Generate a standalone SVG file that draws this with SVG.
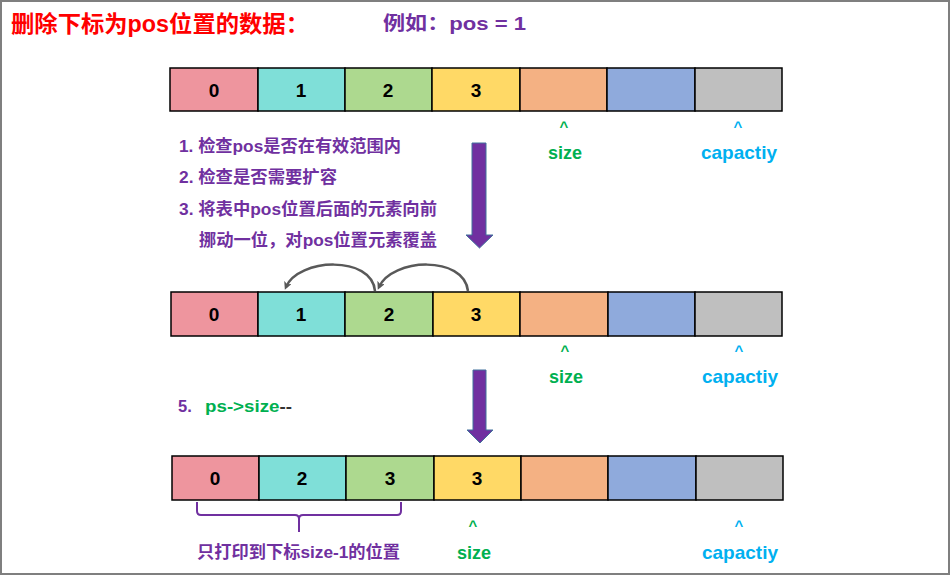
<svg xmlns="http://www.w3.org/2000/svg" width="952" height="576" viewBox="0 0 952 576">
<style>
.t{font-family:"Liberation Sans","Noto Sans CJK SC",sans-serif;font-weight:bold}
.num{font-family:"Liberation Sans",sans-serif;font-weight:bold;font-size:19px;fill:#000;text-anchor:middle}
.cell{stroke:#000;stroke-width:1.5}
.c0{fill:#EE959E}.c1{fill:#7FDFD8}.c2{fill:#ADD98F}.c3{fill:#FFD966}.c4{fill:#F4B183}.c5{fill:#8FAADC}.c6{fill:#BFBFBF}
.pur{fill:#7030A0}.grn{fill:#00B050}.cyn{fill:#00B0F0}
.blk{fill:#7030A0;stroke:#41719C;stroke-width:1}
.curve{fill:none;stroke:#595959;stroke-width:2.5}
</style>
<defs>
<marker id="ah" markerWidth="8" markerHeight="8" refX="5" refY="4" orient="auto" markerUnits="userSpaceOnUse" viewBox="0 0 8 8">
<path d="M0,0 L8,4 L0,8 L2,4 Z" fill="#595959"/>
</marker>
</defs>
<rect x="1" y="1" width="948" height="573" fill="#fff" stroke="#7f7f7f" stroke-width="2"/>
<g id="title">
<text class="t" x="11" y="32" font-size="23" fill="#FF0000" textLength="298" lengthAdjust="spacingAndGlyphs">删除下标为pos位置的数据：</text>
<text class="t pur" x="383" y="30" font-size="19" textLength="143" lengthAdjust="spacingAndGlyphs">例如：pos = 1</text>
</g>
<g id="array1">
<rect class="cell c0" x="170" y="68" width="88" height="43"/>
<rect class="cell c1" x="258" y="68" width="87" height="43"/>
<rect class="cell c2" x="345" y="68" width="87" height="43"/>
<rect class="cell c3" x="432" y="68" width="88" height="43"/>
<rect class="cell c4" x="520" y="68" width="87" height="43"/>
<rect class="cell c5" x="607" y="68" width="88" height="43"/>
<rect class="cell c6" x="695" y="68" width="87" height="43"/>
<text class="num" x="214" y="97">0</text>
<text class="num" x="301" y="97">1</text>
<text class="num" x="388" y="97">2</text>
<text class="num" x="476" y="97">3</text>
</g>
<g id="labels1">
<text class="t grn" x="564" y="132" font-size="15" text-anchor="middle">^</text>
<text class="t grn" x="565" y="159" font-size="18" text-anchor="middle">size</text>
<text class="t cyn" x="738" y="132" font-size="15" text-anchor="middle">^</text>
<text class="t cyn" x="739" y="159" font-size="19" text-anchor="middle">capactiy</text>
</g>
<g id="steps">
<text class="t pur" x="179" y="152" font-size="16.5" textLength="222" lengthAdjust="spacingAndGlyphs">1. 检查pos是否在有效范围内</text>
<text class="t pur" x="179" y="183" font-size="16.5" textLength="158" lengthAdjust="spacingAndGlyphs">2. 检查是否需要扩容</text>
<text class="t pur" x="179" y="215" font-size="16.5" textLength="258" lengthAdjust="spacingAndGlyphs">3. 将表中pos位置后面的元素向前</text>
<text class="t pur" x="199" y="246" font-size="16.5" textLength="238" lengthAdjust="spacingAndGlyphs">挪动一位，对pos位置元素覆盖</text>
</g>
<g id="arrow1">
<path class="blk" d="M472,143 L486,143 L486,235 L493,235 L479.5,248 L466,235 L472,235 Z"/>
</g>
<g id="array2">
<rect class="cell c0" x="171" y="292" width="87" height="44"/>
<rect class="cell c1" x="258" y="292" width="87" height="44"/>
<rect class="cell c2" x="345" y="292" width="88" height="44"/>
<rect class="cell c3" x="433" y="292" width="87" height="44"/>
<rect class="cell c4" x="520" y="292" width="88" height="44"/>
<rect class="cell c5" x="608" y="292" width="87" height="44"/>
<rect class="cell c6" x="695" y="292" width="87" height="44"/>
<text class="num" x="214" y="321">0</text>
<text class="num" x="301" y="321">1</text>
<text class="num" x="389" y="321">2</text>
<text class="num" x="476" y="321">3</text>
</g>
<g id="connectors">
<path class="curve" d="M375,291 C372,255 298,258 286,287" marker-end="url(#ah)"/>
<path class="curve" d="M468,291 C464,255 392,258 379,287" marker-end="url(#ah)"/>
</g>
<g id="labels2">
<text class="t grn" x="565" y="356" font-size="15" text-anchor="middle">^</text>
<text class="t grn" x="566" y="383" font-size="18" text-anchor="middle">size</text>
<text class="t cyn" x="739" y="356" font-size="15" text-anchor="middle">^</text>
<text class="t cyn" x="740" y="383" font-size="19" text-anchor="middle">capactiy</text>
</g>
<g id="step5">
<text class="t pur" x="178" y="412" font-size="16.5">5.</text>
<text class="t" x="205" y="412" font-size="16.5" textLength="87" lengthAdjust="spacingAndGlyphs"><tspan class="grn">ps-&gt;size</tspan><tspan fill="#333">--</tspan></text>
</g>
<g id="arrow2">
<path class="blk" d="M473,370 L486,370 L486,430 L493,430 L480,443 L467,430 L473,430 Z"/>
</g>
<g id="array3">
<rect class="cell c0" x="172" y="456" width="87" height="44"/>
<rect class="cell c1" x="259" y="456" width="87" height="44"/>
<rect class="cell c2" x="346" y="456" width="88" height="44"/>
<rect class="cell c3" x="434" y="456" width="87" height="44"/>
<rect class="cell c4" x="521" y="456" width="87" height="44"/>
<rect class="cell c5" x="608" y="456" width="88" height="44"/>
<rect class="cell c6" x="696" y="456" width="87" height="44"/>
<text class="num" x="215" y="485">0</text>
<text class="num" x="302" y="485">2</text>
<text class="num" x="390" y="485">3</text>
<text class="num" x="477" y="485">3</text>
</g>
<g id="brace">
<path d="M197,502 L197,511 Q197,515 201,515 L295,515 Q299,515 299,519 L299,532 M299,519 Q299,515 303,515 L397,515 Q401,515 401,511 L401,502" fill="none" stroke="#7030A0" stroke-width="2"/>
<text class="t pur" x="197" y="558" font-size="16.5" textLength="203" lengthAdjust="spacingAndGlyphs">只打印到下标size-1的位置</text>
</g>
<g id="labels3">
<text class="t grn" x="473" y="531" font-size="15" text-anchor="middle">^</text>
<text class="t grn" x="474" y="559" font-size="18" text-anchor="middle">size</text>
<text class="t cyn" x="739" y="531" font-size="15" text-anchor="middle">^</text>
<text class="t cyn" x="740" y="559" font-size="19" text-anchor="middle">capactiy</text>
</g>
</svg>
